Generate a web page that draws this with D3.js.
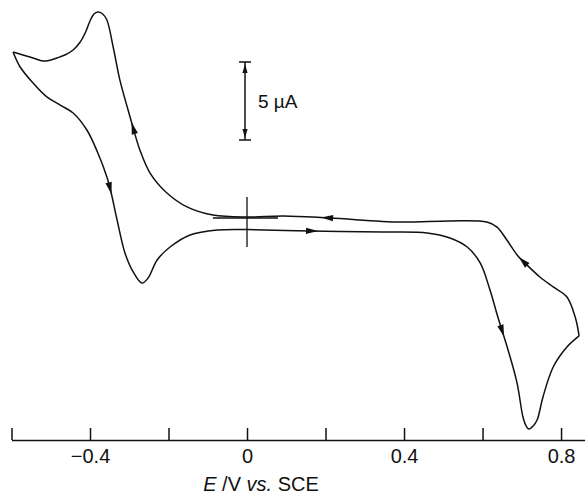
<!DOCTYPE html>
<html>
<head>
<meta charset="utf-8">
<script src="https://cdn.jsdelivr.net/npm/d3@7"></script>
<style>
	body { margin: 0; background: #fff; }
	text { font-family: "Liberation Sans", Arial, sans-serif; fill: #111; }
</style>
</head>
<body>
<svg id="chart"></svg>
<script>
// forward sweep, 0 V -> +0.85 V (lower branch, oxidation peak)
var potOut = [0.000, 0.160, 0.346, 0.459, 0.517, 0.561, 0.594, 0.619, 0.639, 0.665, 0.688, 0.703, 0.711, 0.718, 0.729, 0.739, 0.754, 0.780, 0.815, 0.846]
var curOut = [-0.74, -0.83, -0.90, -0.96, -1.28, -1.86, -2.88, -4.62, -6.35, -8.46, -10.58, -12.76, -13.33, -13.53, -13.33, -12.95, -11.47, -9.55, -8.27, -7.56]

// reverse sweep, +0.85 V -> -0.6 V (upper branch, reduction peak)
var potBack = [0.846, 0.836, 0.815, 0.780, 0.746, 0.713, 0.688, 0.662, 0.637, 0.611, 0.517, 0.390, 0.211, 0.092, 0.000, -0.087, -0.153, -0.204, -0.247, -0.273, -0.290, -0.303, -0.324, -0.341, -0.357, -0.369, -0.380, -0.390, -0.400, -0.410, -0.425, -0.443, -0.464, -0.484, -0.504, -0.520, -0.545, -0.571, -0.596]
var curBack = [-7.56, -6.35, -5.06, -4.42, -3.78, -3.01, -2.37, -1.41, -0.58, -0.26, -0.19, -0.26, 0.00, 0.13, 0.06, 0.19, 0.71, 1.60, 2.88, 4.36, 5.77, 6.92, 8.85, 10.96, 12.69, 13.11, 13.21, 13.08, 12.63, 11.99, 11.28, 10.77, 10.45, 10.26, 10.10, 10.06, 10.26, 10.45, 10.64]

// return sweep, -0.6 V -> 0 V (lower branch, re-oxidation peak)
var potReturn = [-0.596, -0.578, -0.545, -0.510, -0.476, -0.443, -0.408, -0.380, -0.357, -0.346, -0.331, -0.311, -0.290, -0.268, -0.252, -0.229, -0.196, -0.145, -0.076, 0.000]
var curReturn = [10.64, 9.68, 8.65, 7.76, 7.24, 6.73, 5.64, 4.17, 2.63, 1.60, -0.13, -2.24, -3.46, -4.17, -3.85, -2.69, -1.86, -1.09, -0.77, -0.74]

// sweep direction arrows: which sweep, and at what potential
var arrowSweep = [0, 0, 1, 1, 1, 2]
var arrowPot = [0.166, 0.650, 0.703, 0.204, -0.290, -0.349]

var tickValues = [-0.6, -0.4, -0.2, 0, 0.2, 0.4, 0.6, 0.8]
var tickLabels = {"-0.4": "\u22120.4", "0": "0", "0.4": "0.4", "0.8": "0.8"}

var scaleBar = [5, 10]   // µA

buildCV()

function buildCV() {
	var dim = { width: 586, height: 494, axisY: 440 }

	var svg = d3.select('#chart')
		.attr('width', dim.width)
		.attr('height', dim.height)

	var x = d3.scaleLinear()
		.domain([-0.6, 0.86])
		.range([11.5, 584.6])

	// current axis (cathodic up), not drawn in the original
	var y = d3.scaleLinear()
		.domain([0, 5])
		.range([218, 140])

	// potential axis, ticks pointing up
	var ax = svg.append('g')
		.attr('transform', 'translate(0,' + dim.axisY + ')')
		.call(d3.axisBottom(x)
			.tickValues(tickValues)
			.tickSizeInner(-12)
			.tickSizeOuter(0)
			.tickPadding(9)
			.tickFormat(d => tickLabels[String(+d.toFixed(1))] || ''))
	ax.select('.domain').attr('stroke', '#111').attr('stroke-width', 1.5)
	ax.selectAll('.tick line').attr('stroke', '#111').attr('stroke-width', 1.5)
	ax.selectAll('.tick text')
		.attr('font-size', 20)
		.attr('fill', '#111')
		.attr('font-family', '"Liberation Sans", Arial, sans-serif')

	var title = svg.append('text')
		.attr('x', 261)
		.attr('y', 491)
		.attr('text-anchor', 'middle')
		.attr('font-size', 20)
	title.append('tspan').attr('font-style', 'italic').text('E')
	title.append('tspan').text(' /V ')
	title.append('tspan').attr('font-style', 'italic').text('vs.')
	title.append('tspan').text(' SCE')

	var line = d3.line()
		.x(d => x(d[0]))
		.y(d => y(d[1]))
		.curve(d3.curveCatmullRom.alpha(0.5))

	var sweeps = [
		d3.zip(potOut, curOut),
		d3.zip(potBack, curBack),
		d3.zip(potReturn, curReturn)
	]

	var paths = svg.selectAll('path.sweep')
		.data(sweeps)
		.enter()
		.append('path')
			.attr('class', 'sweep')
			.attr('d', line)
			.attr('fill', 'none')
			.attr('stroke', '#111')
			.attr('stroke-width', 1.5)
			.attr('stroke-linejoin', 'miter')

	// crosshair at origin
	var cross = svg.append('g').attr('stroke', '#111').attr('stroke-width', 1.3)
	cross.append('line')
		.attr('x1', x(0)).attr('x2', x(0))
		.attr('y1', y(1.35)).attr('y2', y(-1.86))
	cross.append('line')
		.attr('x1', x(-0.087)).attr('x2', x(0.079))
		.attr('y1', y(0)).attr('y2', y(0))

	// arrows along the sweeps
	var nodes = paths.nodes()
	arrowPot.forEach(function(p, k) {
		var node = nodes[arrowSweep[k]]
		var len = node.getTotalLength()
		var target = x(p)
		var best = 0, bestD = Infinity
		for (var l = 0; l <= len; l += 0.5) {
			var pt = node.getPointAtLength(l)
			var dd = Math.abs(pt.x - target)
			if (dd < bestD) { bestD = dd; best = l }
		}
		var c = node.getPointAtLength(best)
		var a = node.getPointAtLength(Math.max(0, best - 3))
		var b = node.getPointAtLength(Math.min(len, best + 3))
		var ang = Math.atan2(b.y - a.y, b.x - a.x) * 180 / Math.PI
		svg.append('path')
			.attr('d', 'M6,0L-6,-3.2L-6,3.2Z')
			.attr('fill', '#111')
			.attr('transform', 'translate(' + c.x + ',' + c.y + ') rotate(' + ang + ')')
	})

	// 5 µA scale bar
	var bx = x(0) - 2
	var bar = svg.append('g').attr('stroke', '#111').attr('stroke-width', 1.5)
	bar.append('line')
		.attr('x1', bx).attr('x2', bx)
		.attr('y1', y(scaleBar[1])).attr('y2', y(scaleBar[0]))
	scaleBar.forEach(function(v) {
		bar.append('line')
			.attr('x1', bx - 6).attr('x2', bx + 6)
			.attr('y1', y(v)).attr('y2', y(v))
	})
	svg.append('path')
		.attr('d', 'M0,0L-2.6,9L2.6,9Z')
		.attr('fill', '#111')
		.attr('transform', 'translate(' + bx + ',' + (y(scaleBar[1]) + 2) + ')')
	svg.append('path')
		.attr('d', 'M0,0L-2.6,-9L2.6,-9Z')
		.attr('fill', '#111')
		.attr('transform', 'translate(' + bx + ',' + (y(scaleBar[0]) - 2) + ')')
	svg.append('text')
		.attr('x', bx + 13)
		.attr('y', (y(scaleBar[0]) + y(scaleBar[1])) / 2 + 7)
		.attr('font-size', 19)
		.text('5 \u00b5A')
}
</script>
</body>
</html>
